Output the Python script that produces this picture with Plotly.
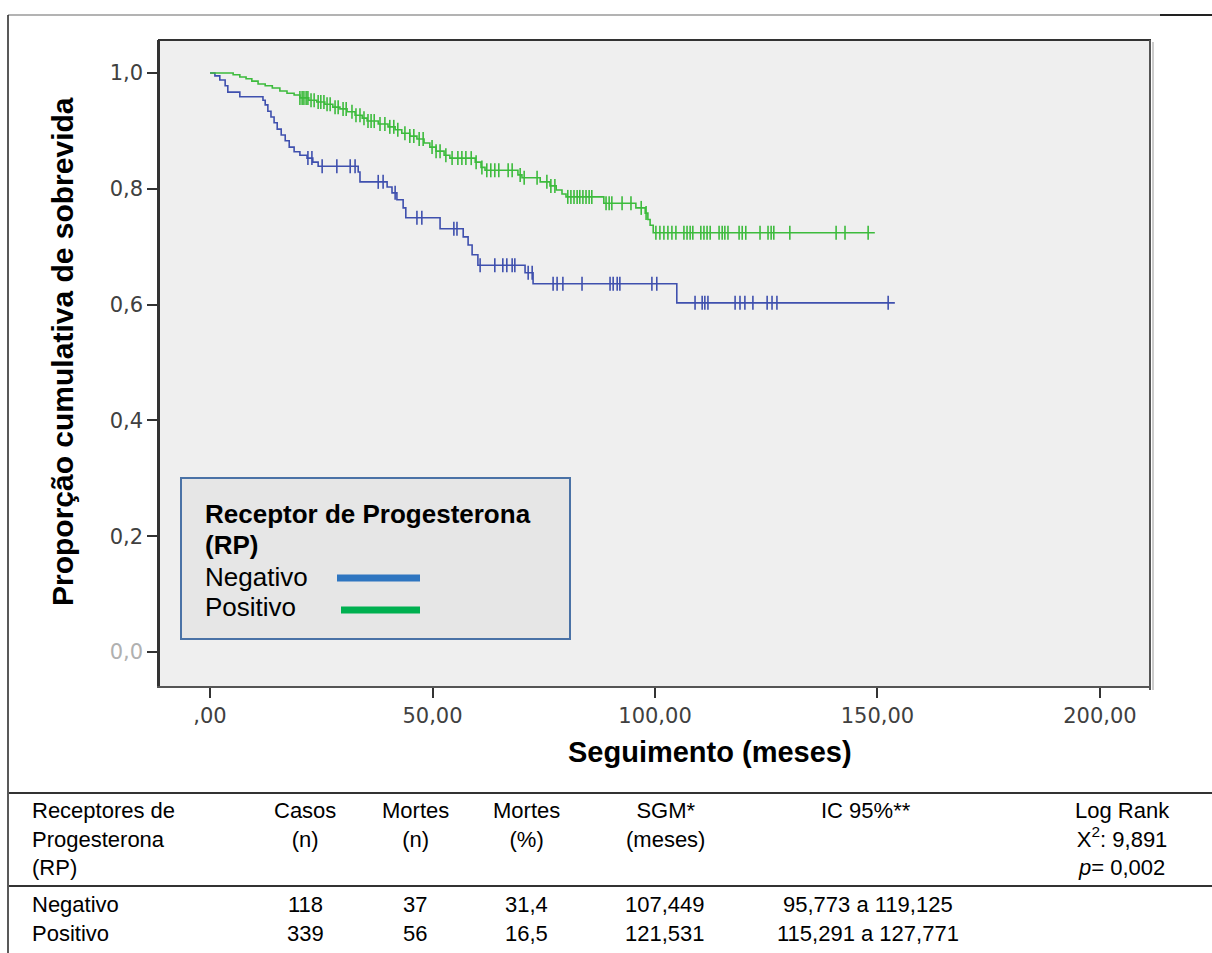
import numpy as np
import plotly.graph_objects as go

W, H = 1212, 953

# ---------------- data ----------------
neg_event_times = [1.1, 2.2, 3.4, 4.0, 6.7, 11.9, 12.4, 13.0, 13.7, 14.4, 15.1, 16.0, 16.9,
                   17.8, 18.9, 20.2, 21.8, 23.1, 24.3, 33.3, 33.7, 39.8, 40.9, 42.0, 43.4,
                   44.0, 51.7, 56.9, 58.0, 58.9, 60.2, 70.8, 72.6, 104.9]
neg_survival = [0.995, 0.988, 0.978, 0.967, 0.959, 0.953, 0.945, 0.934, 0.924, 0.914, 0.903,
                0.893, 0.883, 0.872, 0.864, 0.858, 0.853, 0.846, 0.839, 0.829, 0.812, 0.803,
                0.793, 0.781, 0.767, 0.750, 0.731, 0.717, 0.703, 0.686, 0.668, 0.655, 0.636,
                0.603]
neg_censor_times = [22.0, 22.9, 25.2, 28.5, 31.5, 32.6, 37.8, 38.9, 41.6, 46.5, 47.6, 54.8,
                    55.5, 60.7, 64.0, 65.8, 66.7, 67.9, 68.5, 71.5, 72.4, 77.1, 78.0, 79.3,
                    83.6, 89.9, 90.6, 91.5, 92.1, 99.3, 100.4, 109.0, 110.6, 111.2, 111.9,
                    118.0, 119.1, 120.2, 122.0, 125.2, 126.3, 127.4, 152.4]
neg_last_followup = 153.9

pos_event_times = [5.2, 6.7, 8.1, 9.4, 10.8, 12.4, 14.0, 15.7, 17.3, 18.9, 20.2, 22.2, 24.0,
                   25.8, 27.6, 29.2, 30.8, 32.6, 34.2, 35.3, 37.8, 40.0, 41.6, 43.1, 44.9,
                   46.5, 48.1, 49.4, 50.8, 52.6, 53.9, 59.6, 60.9, 61.8, 69.2, 70.1, 74.2,
                   76.4, 77.8, 79.1, 80.0, 88.5, 95.7, 97.8, 98.4, 98.9, 99.6]
pos_survival = [0.997, 0.993, 0.990, 0.986, 0.981, 0.978, 0.974, 0.969, 0.965, 0.962, 0.957,
                0.953, 0.950, 0.946, 0.941, 0.938, 0.933, 0.927, 0.922, 0.917, 0.912, 0.907,
                0.902, 0.896, 0.891, 0.886, 0.879, 0.872, 0.865, 0.858, 0.853, 0.846, 0.837,
                0.832, 0.824, 0.819, 0.812, 0.805, 0.798, 0.791, 0.786, 0.775, 0.767, 0.758,
                0.747, 0.737, 0.724]
pos_censor_times = [20.2, 20.7, 21.1, 21.6, 22.0, 22.7, 23.4, 24.3, 24.9, 25.6, 26.3, 27.0,
                    28.1, 28.8, 29.9, 30.6, 31.9, 32.8, 33.7, 34.6, 35.5, 36.2, 36.9, 38.2,
                    39.3, 40.4, 41.3, 42.2, 43.8, 44.9, 45.8, 47.0, 47.9, 49.9, 50.8, 51.7,
                    53.0, 54.4, 55.7, 56.6, 57.5, 58.7, 59.8, 61.1, 62.2, 63.1, 64.0, 64.9,
                    67.0, 67.9, 69.7, 70.6, 73.5, 75.7, 76.6, 77.5, 80.4, 81.1, 81.8, 82.5,
                    83.1, 83.8, 84.5, 85.2, 85.8, 89.0, 89.7, 90.3, 92.6, 94.6, 96.9, 98.0,
                    100.2, 101.1, 102.0, 102.9, 103.8, 104.7, 106.5, 107.2, 107.9, 108.5,
                    110.3, 111.0, 111.7, 112.4, 114.4, 115.1, 115.7, 116.4, 118.9, 119.6,
                    120.4, 123.6, 125.4, 126.1, 126.7, 130.3, 140.7, 142.7, 147.9]
pos_last_followup = 149.4

x_tick_vals = [0, 50, 100, 150, 200]
x_tick_text = [",00", "50,00", "100,00", "150,00", "200,00"]
y_tick_vals = [0.0, 0.2, 0.4, 0.6, 0.8, 1.0]
y_tick_text = ["0,0", "0,2", "0,4", "0,6", "0,8", "1,0"]

group_names = ["Negativo", "Positivo"]
curve_colors = ["#3f50ae", "#3dbb3d"]
legend_colors = ["#2e75c0", "#00b050"]

table_header = ["Receptores de<br>Progesterona<br>(RP)", "Casos<br>(n)", "Mortes<br>(n)",
                "Mortes<br>(%)", "SGM*<br>(meses)", "IC 95%**",
                "Log Rank<br>X<sup>2</sup>: 9,891<br><i>p</i>= 0,002"]
table_cases = ["118", "339"]
table_deaths = ["37", "56"]
table_deaths_pct = ["31,4", "16,5"]
table_sgm = ["107,449", "121,531"]
table_ci = ["95,773 a 119,125", "115,291 a 127,771"]


# ---------------- helpers ----------------
def px(x):
    return x / W


def py(y):
    return 1 - y / H


def step_value(times, surv, t):
    idx = np.searchsorted(np.asarray(times), t, side="right") - 1
    return 1.0 if idx < 0 else surv[idx]


SANS = "Liberation Sans, Arial, sans-serif"

fig = go.Figure()

groups = [
    (neg_event_times, neg_survival, neg_censor_times, neg_last_followup),
    (pos_event_times, pos_survival, pos_censor_times, pos_last_followup),
]
for name, color, (et, sv, ct, last) in zip(group_names, curve_colors, groups):
    xs = [0.0] + list(et) + [last]
    ys = [1.0] + list(sv) + [sv[-1]]
    fig.add_trace(go.Scatter(x=xs, y=ys, mode="lines", line=dict(color=color, width=1.6, shape="hv"),
                             name=name, showlegend=False, hoverinfo="skip"))
    cy = [step_value(et, sv, t) for t in ct]
    fig.add_trace(go.Scatter(x=ct, y=cy, mode="markers",
                             marker=dict(symbol="line-ns-open", size=10, color=color,
                                         line=dict(color=color, width=1.6)),
                             name=name + " censurado", showlegend=False, hoverinfo="skip"))

# plot region: x 160..1150 px, y 40..686 px
x0p, x1p, y0p, y1p = 160, 1150, 40, 686
fig.update_layout(
    width=W, height=H,
    margin=dict(l=0, r=0, t=0, b=0),
    paper_bgcolor="white",
    plot_bgcolor="#efefef",
    showlegend=False,
    xaxis=dict(domain=[px(x0p), px(x1p)], range=[-11.24, 211.24], showgrid=False, zeroline=False,
               showline=True, linecolor="#555555", linewidth=2,
               ticks="outside", ticklen=10, tickwidth=1.5, tickcolor="#333333",
               tickvals=x_tick_vals, ticktext=x_tick_text,
               tickfont=dict(family="DejaVu Sans", size=21, color="#404040")),
    yaxis=dict(domain=[py(y1p), py(y0p)], range=[-0.0587, 1.057], showgrid=False, zeroline=False,
               showline=True, linecolor="#333333", linewidth=2.5,
               ticks="outside", ticklen=10, tickwidth=1.5, tickcolor="#333333",
               tickvals=y_tick_vals,
               ticktext=["<span style='color:#b0b0b0'>" + y_tick_text[0] + "</span>"] + y_tick_text[1:],
               tickfont=dict(family="DejaVu Sans", size=21, color="#404040")),
)

shapes = []
# outer frame
shapes.append(dict(type="line", xref="paper", yref="paper", x0=px(8), x1=px(1212), y0=py(15), y1=py(15),
                   line=dict(color="#9a9a9a", width=1.5)))
shapes.append(dict(type="line", xref="paper", yref="paper", x0=px(1160), x1=px(1212), y0=py(15), y1=py(15),
                   line=dict(color="#222222", width=2)))
shapes.append(dict(type="line", xref="paper", yref="paper", x0=px(8), x1=px(8), y0=py(15), y1=py(953),
                   line=dict(color="#222222", width=1.5)))
# panel frame (top + right)
shapes.append(dict(type="line", xref="paper", yref="paper", x0=px(158), x1=px(1151), y0=py(40), y1=py(40),
                   line=dict(color="#333333", width=2)))
shapes.append(dict(type="line", xref="paper", yref="paper", x0=px(1150), x1=px(1150), y0=py(40), y1=py(690),
                   line=dict(color="#555555", width=2)))
shapes.append(dict(type="line", xref="paper", yref="paper", x0=px(1153), x1=px(1153), y0=py(42), y1=py(690),
                   line=dict(color="#bbbbbb", width=1.5)))
# table lines
shapes.append(dict(type="line", xref="paper", yref="paper", x0=px(9), x1=px(1212), y0=py(793), y1=py(793),
                   line=dict(color="#333333", width=2)))
shapes.append(dict(type="line", xref="paper", yref="paper", x0=px(9), x1=px(1212), y0=py(886), y1=py(886),
                   line=dict(color="#333333", width=2)))
# legend box
shapes.append(dict(type="rect", xref="paper", yref="paper", x0=px(181), x1=px(570), y0=py(478), y1=py(639),
                   fillcolor="#e6e6e6", line=dict(color="#4a72a6", width=2), layer="above"))
shapes.append(dict(type="line", xref="paper", yref="paper", x0=px(337), x1=px(420), y0=py(578), y1=py(578),
                   line=dict(color=legend_colors[0], width=7), layer="above"))
shapes.append(dict(type="line", xref="paper", yref="paper", x0=px(341), x1=px(420), y0=py(610), y1=py(610),
                   line=dict(color=legend_colors[1], width=7), layer="above"))
fig.update_layout(shapes=shapes)

ann = []


def add_text(text, x, y, size, xanchor="left", yanchor="middle", align="left", bold=False, family=SANS,
             color="#000000", textangle=0):
    if bold:
        text = "<b>" + text + "</b>"
    ann.append(dict(text=text, x=px(x), y=py(y), xref="paper", yref="paper", showarrow=False,
                    xanchor=xanchor, yanchor=yanchor, align=align, textangle=textangle,
                    font=dict(family=family, size=size, color=color)))


# axis titles
add_text("Proporção cumulativa de sobrevida", 62, 352, 30, xanchor="center", bold=True, textangle=-90)
add_text("Seguimento (meses)", 710, 752, 29, xanchor="center", bold=True)

# legend texts
add_text("Receptor de Progesterona", 203, 514, 26, bold=True)
add_text("(RP)", 203, 545, 26, bold=True)
add_text(group_names[0], 203, 577, 26)
add_text(group_names[1], 203, 607, 26)

# table
header_x = [30, 305, 415, 526, 665, 866, 1122]
for i, (hx, ht) in enumerate(zip(header_x, table_header)):
    add_text(ht, hx, 796, 22, xanchor="left" if i == 0 else "center", yanchor="top",
             align="left" if i == 0 else "center")
row_y = [904, 933]
for r in range(2):
    add_text(group_names[r], 30, row_y[r], 22)
    add_text(table_cases[r], 305, row_y[r], 22, xanchor="center")
    add_text(table_deaths[r], 415, row_y[r], 22, xanchor="center")
    add_text(table_deaths_pct[r], 526, row_y[r], 22, xanchor="center")
    add_text(table_sgm[r], 665, row_y[r], 22, xanchor="center")
    add_text(table_ci[r], 868, row_y[r], 22, xanchor="center")

fig.update_layout(annotations=ann)
fig.write_html("out.html")
